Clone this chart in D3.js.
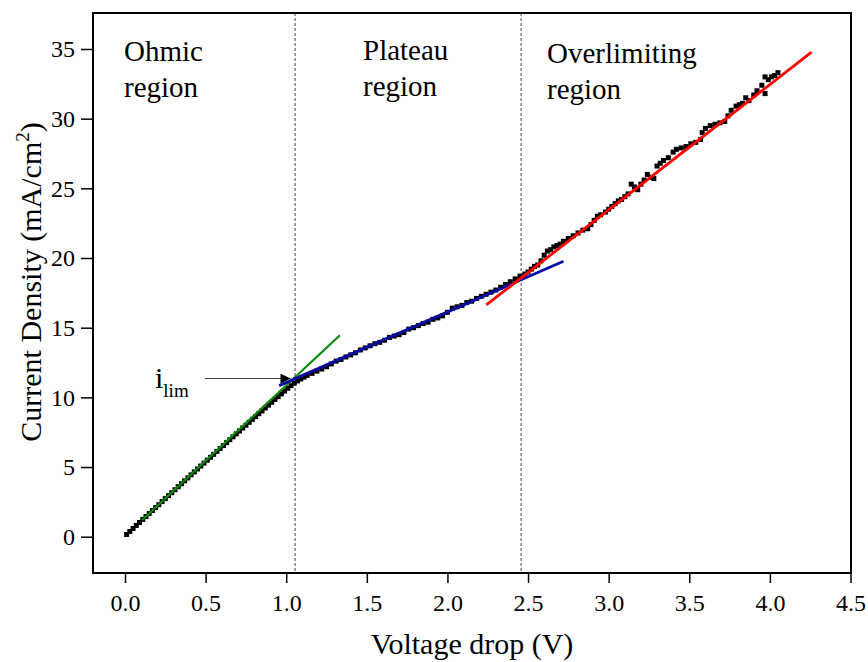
<!DOCTYPE html>
<html><head><meta charset="utf-8">
<script src="https://cdn.jsdelivr.net/npm/d3@7"></script>
<style>body{margin:0;background:#fff}svg{display:block}text{font-family:"Liberation Serif","Times New Roman",serif;fill:#000}</style>
</head><body><svg id="c" width="868" height="662"></svg>
<script>
// ---- data ----
const ohmicV = [0.01,0.03,0.05,0.07,0.09,0.11,0.13,0.15,0.17,0.19,0.21,0.23,0.25,0.27,0.29,0.31,0.33,0.35,0.37,0.39,0.41,0.43,0.45,0.47,0.49,0.51,0.53,0.55,0.57,0.59,0.61,0.63,0.65,0.67,0.69,0.71,0.73,0.75,0.77,0.79,0.81,0.83,0.85,0.87,0.89,0.91,0.93,0.95,0.97,0.99,1.01,1.03,1.05];
const ohmicI = [0.16,0.37,0.59,0.81,1.02,1.24,1.45,1.66,1.88,2.09,2.30,2.52,2.73,2.95,3.16,3.37,3.59,3.80,4.01,4.22,4.44,4.65,4.86,5.07,5.28,5.49,5.70,5.91,6.12,6.33,6.54,6.75,6.96,7.17,7.38,7.59,7.80,8.00,8.21,8.42,8.62,8.83,9.03,9.24,9.44,9.65,9.85,10.05,10.25,10.45,10.65,10.84,11.02];
const plateauV = [1.07,1.09,1.11,1.13,1.16,1.19,1.22,1.25,1.28,1.31,1.34,1.37,1.40,1.43,1.46,1.49,1.52,1.55,1.58,1.61,1.64,1.67,1.70,1.73,1.76,1.79,1.82,1.85,1.88,1.91,1.94,1.97,2.00,2.03,2.06,2.09,2.12,2.15,2.18,2.21,2.24,2.27,2.30,2.33,2.36,2.39,2.42,2.45,2.48];
const plateauI = [11.18,11.32,11.45,11.57,11.72,11.88,12.03,12.2,12.4,12.6,12.72,12.9,13.05,13.2,13.4,13.55,13.7,13.85,13.95,14.1,14.3,14.4,14.5,14.65,14.9,15.0,15.15,15.3,15.4,15.6,15.7,15.85,16.1,16.4,16.5,16.6,16.8,16.9,17.1,17.25,17.4,17.55,17.7,17.9,18.1,18.3,18.5,18.7,18.85];
const overV = [2.50,2.52,2.54,2.56,2.58,2.60,2.62,2.64,2.66,2.68,2.70,2.72,2.75,2.78,2.81,2.84,2.87,2.89,2.91,2.93,2.95,2.98,3.00,3.02,3.04,3.06,3.08,3.10,3.12,3.14,3.16,3.18,3.20,3.22,3.24,3.26,3.28,3.30,3.32,3.34,3.37,3.40,3.42,3.45,3.48,3.51,3.54,3.57,3.58,3.60,3.63,3.66,3.69,3.72,3.74,3.76,3.79,3.81,3.83,3.85,3.87,3.90,3.92,3.95,3.97,3.97,3.99,4.01,4.03,4.05];
const overI = [19.0,19.2,19.4,19.5,19.8,20.2,20.5,20.6,20.8,20.9,21.0,21.2,21.4,21.6,21.8,22.0,22.1,22.4,22.7,23.0,23.1,23.3,23.5,23.7,23.9,24.1,24.2,24.4,24.6,25.3,25.1,24.9,25.3,25.6,26.0,25.8,25.7,26.6,26.8,27.0,27.2,27.6,27.8,27.9,28.0,28.2,28.3,28.5,29.0,29.3,29.5,29.6,29.7,29.8,30.2,30.6,30.9,31.0,31.1,31.5,31.3,31.7,32.0,32.4,31.8,33.0,32.8,33.0,33.1,33.3];
// fit lines: [x0, y0, x1, y1]
const fitOhmic = [0.107, 1.20, 1.333, 14.46];
const fitPlateau = [0.956, 10.84, 2.72, 19.77];
const fitOver = [2.241, 16.63, 4.258, 34.77];
const regionBounds = [1.055, 2.457];
const xTicks = [0.0,0.5,1.0,1.5,2.0,2.5,3.0,3.5,4.0,4.5];
const yTicks = [0,5,10,15,20,25,30,35];
const regionLabels = [["Ohmic","region"],["Plateau","region"],["Overlimiting","region"]];
const iLim = {v: 1.045, i: 11.35};

// ---- layout ----
const svg = d3.select("#c");
const L = 93, R = 851, T = 13, B = 573;
const x = d3.scaleLinear().domain([0, 4.5]).range([125, 850.5]);
const y = d3.scaleLinear().domain([0, 35]).range([536.7, 49]);

// dashed region bounds
svg.selectAll("line.bound").data(regionBounds).enter().append("line")
  .attr("x1", d => x(d)).attr("x2", d => x(d)).attr("y1", T).attr("y2", B)
  .attr("stroke", "#444").attr("stroke-width", 1).attr("stroke-dasharray", "3,2");

// data points
const pts = [];
ohmicV.forEach((v,i)=>pts.push([v, ohmicI[i]]));
plateauV.forEach((v,i)=>pts.push([v, plateauI[i]]));
overV.forEach((v,i)=>pts.push([v, overI[i]]));
svg.selectAll("rect.pt").data(pts).enter().append("rect")
  .attr("x", d => x(d[0]) - 2.5).attr("y", d => y(d[1]) - 2.5)
  .attr("width", 5).attr("height", 5).attr("fill", "#000");

// fit lines
const fits = [[fitOhmic, "#0a8a0a", 2.2], [fitPlateau, "#0a0aa0", 2.8], [fitOver, "#ff0000", 2.8]];
svg.selectAll("line.fit").data(fits).enter().append("line")
  .attr("x1", d => x(d[0][0])).attr("y1", d => y(d[0][1]))
  .attr("x2", d => x(d[0][2])).attr("y2", d => y(d[0][3]))
  .attr("stroke", d => d[1]).attr("stroke-width", d => d[2]);

// frame
svg.append("rect").attr("x", L).attr("y", T).attr("width", R - L).attr("height", B - T)
  .attr("fill", "none").attr("stroke", "#000").attr("stroke-width", 2);

// axes
const xAxis = d3.axisBottom(x).tickValues(xTicks).tickFormat(d3.format(".1f")).tickSize(10).tickSizeOuter(0);
const gx = svg.append("g").attr("transform", `translate(0,${B})`).call(xAxis);
gx.select(".domain").remove();
gx.selectAll("line").attr("stroke", "#000").attr("stroke-width", 1.5);
gx.selectAll("text").attr("font-size", 24).attr("dy", null).attr("y", 38)
  .style("font-family", '"Liberation Serif", serif');

const yAxis = d3.axisLeft(y).tickValues(yTicks).tickSize(12).tickSizeOuter(0);
const gy = svg.append("g").attr("transform", `translate(${L},0)`).call(yAxis);
gy.select(".domain").remove();
gy.selectAll("line").attr("stroke", "#000").attr("stroke-width", 1.5);
gy.selectAll("text").attr("font-size", 24).attr("x", -18).attr("dy", "0.33em")
  .style("font-family", '"Liberation Serif", serif');

// axis titles
svg.append("text").attr("x", (L + R) / 2).attr("y", 654).attr("text-anchor", "middle")
  .attr("font-size", 30).text("Voltage drop (V)");
const yt = svg.append("text").attr("transform", "translate(41,282) rotate(-90)")
  .attr("text-anchor", "middle").attr("font-size", 30);
yt.append("tspan").text("Current Density (mA/cm");
yt.append("tspan").attr("font-size", 19).attr("dy", -12).text("2");
yt.append("tspan").attr("dy", 12).text(")");

// region labels
const labelPos = [[124, 61], [363, 60], [547, 63]];
regionLabels.forEach((lines, k) => {
  lines.forEach((s, j) => {
    svg.append("text").attr("x", labelPos[k][0]).attr("y", labelPos[k][1] + j * 36)
      .attr("font-size", 29).text(s);
  });
});

// i_lim arrow
svg.append("defs").append("marker").attr("id", "ah").attr("viewBox", "0 0 10 10")
  .attr("refX", 10).attr("refY", 5).attr("markerWidth", 17).attr("markerHeight", 10)
  .attr("markerUnits", "userSpaceOnUse").attr("orient", "auto")
  .append("path").attr("d", "M0,0 L10,5 L0,10 Z").attr("fill", "#000");
svg.append("line").attr("x1", 205).attr("y1", y(iLim.i)).attr("x2", x(iLim.v) - 3).attr("y2", y(iLim.i))
  .attr("stroke", "#444").attr("stroke-width", 1).attr("marker-end", "url(#ah)");
const il = svg.append("text").attr("x", 155).attr("y", 388).attr("font-size", 30);
il.append("tspan").text("i");
il.append("tspan").attr("font-size", 19).attr("dy", 9).text("lim");
</script></body></html>
